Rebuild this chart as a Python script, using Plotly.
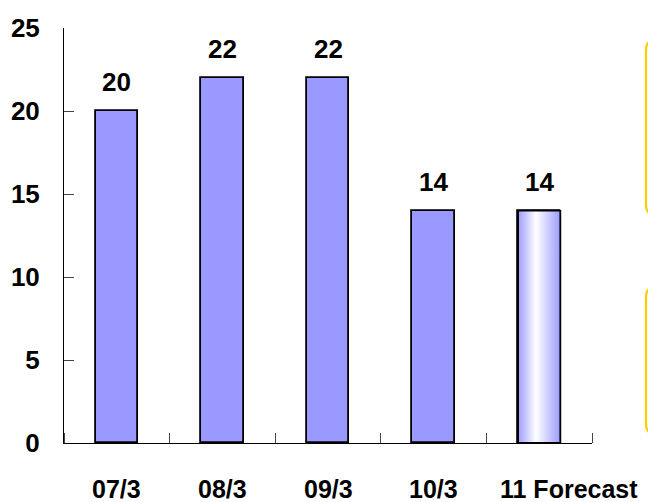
import plotly.graph_objects as go

categories = ["07/3", "08/3", "09/3", "10/3", "11 Forecast"]
values = [20, 22, 22, 14, 14]
forecast_flags = [False, False, False, False, True]
y_ticks = [0, 5, 10, 15, 20, 25]

W, H = 648, 502
ML, MR, MT, MB = 64, 56, 28, 59
PW, PH = W - ML - MR, H - MT - MB
FONT = "Liberation Sans, Arial, sans-serif"
BAR_W = 0.4
BLUE = "#9999FF"

xs = list(range(len(categories)))

fig = go.Figure()

# gradient (forecast) bars
for i, (v, f) in enumerate(zip(values, forecast_flags)):
    if f:
        fig.add_trace(go.Scatter(
            x=[i - BAR_W / 2, i + BAR_W / 2, i + BAR_W / 2, i - BAR_W / 2, i - BAR_W / 2],
            y=[0, 0, v, v, 0],
            mode="lines", fill="toself",
            fillgradient=dict(type="horizontal",
                              colorscale=[[0, "#9C9CFF"], [0.42, "#FFFFFF"], [1, "#9C9CFF"]]),
            line=dict(color="black", width=1.8),
            hoverinfo="skip", showlegend=False,
        ))

fig.add_trace(go.Bar(
    x=xs, y=values, width=BAR_W,
    marker=dict(color=[("rgba(0,0,0,0)" if f else BLUE) for f in forecast_flags],
                line=dict(color="black", width=1.8)),
    showlegend=False,
))

annotations = []
for i, v in enumerate(values):
    annotations.append(dict(x=i, y=v, xref="x", yref="y", text=f"<b>{v}</b>",
                            showarrow=False, yanchor="bottom", yshift=12,
                            font=dict(family=FONT, size=26, color="black")))
for i, c in enumerate(categories):
    last = (i == len(categories) - 1)
    annotations.append(dict(x=i, y=0, xref="x", yref="paper", text=f"<b>{c}</b>",
                            showarrow=False, yanchor="top", yshift=-30,
                            xshift=30 if last else 0,
                            font=dict(family=FONT, size=25 if last else 25, color="black")))

def px2paper(px, py):
    return (px - ML) / PW, (MT + PH - py) / PH

def rounded_box(x0, y0, x1, y1, r):
    def P(x, y):
        a, b = px2paper(x, y)
        return f"{a},{b}"
    return (f"M {P(x1, y0)} L {P(x0 + r, y0)} Q {P(x0, y0)} {P(x0, y0 + r)} "
            f"L {P(x0, y1 - r)} Q {P(x0, y1)} {P(x0 + r, y1)} L {P(x1, y1)}")

shapes = [
    dict(type="path", xref="paper", yref="paper", path=rounded_box(646, 40, 700, 215, 10),
         line=dict(color="#FFCC00", width=2.2)),
    dict(type="path", xref="paper", yref="paper", path=rounded_box(646, 287, 700, 434, 10),
         line=dict(color="#FFCC00", width=2.2)),
]

fig.update_layout(
    width=W, height=H,
    margin=dict(l=ML, r=MR, t=MT, b=MB),
    paper_bgcolor="white", plot_bgcolor="white",
    annotations=annotations, shapes=shapes,
    xaxis=dict(range=[-0.5, 4.5], tickvals=xs, ticktext=[""] * len(xs), ticks="",
               showline=True, linecolor="black", linewidth=1, showgrid=False, zeroline=False,
               minor=dict(tick0=0.5, dtick=1, ticks="inside", ticklen=10, tickcolor="#444",
                          tickwidth=1, showgrid=False),
               fixedrange=True),
    yaxis=dict(range=[0, 25], tickvals=y_ticks, ticktext=[f"<b>{t}</b>" for t in y_ticks],
               ticks="inside", ticklen=10, tickcolor="#444", tickwidth=1,
               showline=True, linecolor="black", linewidth=1, showgrid=False, zeroline=False,
               ticklabelstandoff=18,
               tickfont=dict(family=FONT, size=26, color="black"), fixedrange=True),
    bargap=0,
)

fig.write_html("out.html")
